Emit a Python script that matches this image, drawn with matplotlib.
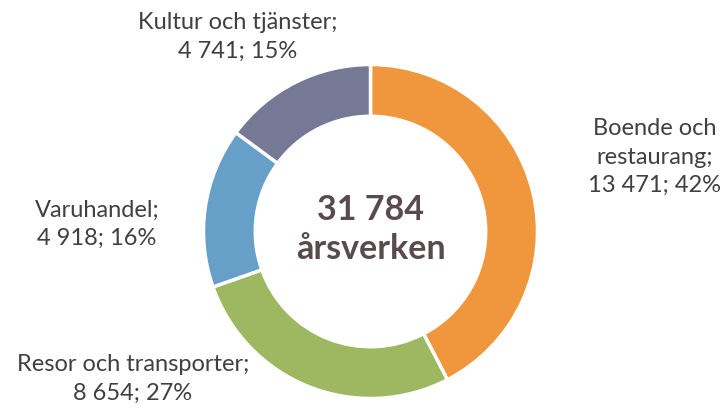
import matplotlib.pyplot as plt

categories = ['Boende och\nrestaurang', 'Resor och transporter', 'Varuhandel', 'Kultur och tjänster']
values = [13471, 8654, 4918, 4741]
percent = [42, 27, 16, 15]
colors = ['#F0963C', '#9DB860', '#66A0C8', '#757995']
total_text = '31 784\nårsverken'

plt.rcParams['font.family'] = ['Lato', 'DejaVu Sans']

fig = plt.figure(figsize=(7.26, 4.08), dpi=100)
ax = fig.add_axes([0, 0, 1, 1])

# donut, pixel coords with y pointing up
cx, cy, r = 370.5, 408 - 231.5, 167
ax.pie(values, colors=colors, startangle=90, counterclock=False,
       center=(cx, cy), radius=r, frame=True,
       wedgeprops=dict(width=r * 0.31, edgecolor='white', linewidth=2.5))
ax.set_xlim(0, 726)
ax.set_ylim(0, 408)
ax.set_aspect('equal')
ax.axis('off')

def fmt(v):
    return f'{v:,}'.replace(',', ' ')

# label positions (pixel centres from the top-left)
label_pos = [(655, 157), (133, 379), (97, 224), (238, 37)]
for name, v, p, (x, y) in zip(categories, values, percent, label_pos):
    ax.text(x, 408 - y, f'{name};\n{fmt(v)}; {p}%', ha='center', va='center',
            fontsize=17, color='#404040', linespacing=1.42)

ax.text(cx, cy + 2, total_text, ha='center', va='center', fontsize=24.5,
        fontweight='bold', color='#594A4E', linespacing=1.3)

fig.savefig('out.png', dpi=100)
